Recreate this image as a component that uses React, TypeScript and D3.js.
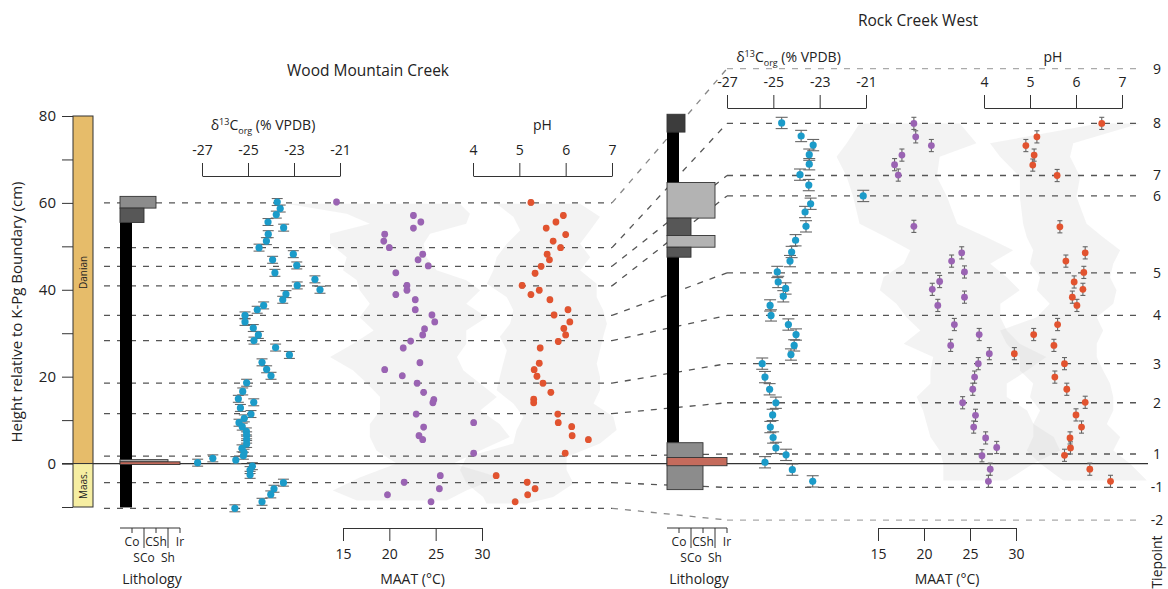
import React, { useEffect, useRef } from 'react';
import * as d3 from 'd3';

const W = 1168;
const H = 589;
const FONT = '"Open Sans", sans-serif';

// tiepoints, cm above the K-Pg boundary in each section
const tiepointLabels = ['9', '8', '7', '6', '5', '4', '3', '2', '1', '-1', '-2'];
const wmcTiepoints = [60.0, 49.7, 45.4, 40.9, 34.1, 28.3, 18.5, 11.5, 1.7, -4.4, -10.3];
const rcwTiepoints = [90.9, 78.3, 66.3, 61.6, 43.9, 34.1, 23.0, 14.0, 2.2, -5.5, -13.0];

const lithoTicks = ['Co', 'SCo', 'CSh', 'Sh', 'Ir'];
// lithology layers: [top, bottom, lithology index]
const wmcLitho: [number, number, number][] = [
  [55.5, -10.1, 1],
  [61.5, 58.8, 3],
  [58.8, 55.5, 2],
  [0.9, 0.35, 4],
  [0.4, -0.2, 5],
];
const rcwLitho: [number, number, number][] = [
  [76.3, 4.8, 1],
  [80.4, 76.3, 1.5],
  [64.7, 56.5, 4],
  [56.5, 52.5, 2],
  [52.5, 49.8, 4],
  [49.8, 47.5, 2],
  [4.8, -6.0, 3],
  [1.4, -0.5, 5],
];

// Wood Mountain Creek: [height cm, value]
const wmcD13C: [number, number][] = [
  [60.2, -23.73], [58.7, -23.6], [57.3, -23.77], [55.6, -24.13], [54.3, -23.45], [52.8, -24.12],
  [51.2, -24.2], [49.7, -24.52], [48.2, -23.03], [46.9, -23.93], [45.6, -22.88], [43.9, -23.83],
  [42.4, -22.09], [41.0, -22.86], [40.0, -21.87], [39.0, -23.35], [37.7, -23.49], [36.4, -24.32],
  [35.4, -24.6], [34.1, -25.13], [32.6, -25.13], [31.2, -24.77], [29.6, -24.55], [28.3, -24.74],
  [26.7, -23.8], [25.0, -23.2], [23.3, -24.39], [21.7, -24.19], [20.2, -24.0], [18.6, -25.06],
  [16.6, -25.23], [14.9, -25.42], [14.1, -24.75], [12.8, -25.33], [11.4, -24.87], [10.4, -25.16],
  [9.4, -25.39], [8.5, -25.25], [7.4, -25.07], [6.5, -25.06], [5.5, -25.06], [4.5, -25.06],
  [3.5, -25.26], [2.5, -25.17], [1.8, -25.2], [0.8, -25.53], [1.2, -26.53], [0.2, -27.19],
  [-0.6, -24.81], [-1.5, -24.91], [-2.6, -24.91], [-4.4, -23.46], [-5.8, -23.87], [-7.1, -24.01],
  [-8.8, -24.39], [-10.3, -25.57],
];
const wmcMaat: [number, number][] = [
  [60.2, 14.3], [57.1, 22.6], [55.6, 23.4], [54.2, 22.6], [52.8, 19.5], [51.2, 19.4], [49.7, 20.0],
  [48.2, 23.6], [46.9, 23.1], [45.5, 24.2], [43.9, 20.7], [41.0, 21.9], [39.9, 21.9], [38.9, 20.7],
  [37.7, 22.8], [35.4, 22.8], [34.2, 24.6], [32.6, 24.9], [31.0, 23.8], [29.6, 23.6], [28.2, 22.3],
  [26.6, 21.5], [23.2, 23.3], [21.6, 19.5], [20.2, 21.4], [18.5, 23.0], [16.4, 23.7], [14.7, 24.8],
  [14.0, 24.7], [11.4, 22.9], [9.4, 29.1], [8.4, 23.7], [6.4, 23.2], [5.5, 23.6], [2.4, 29.1],
  [-2.8, 25.5], [-4.3, 21.6], [-5.8, 25.4], [-7.2, 19.8], [-8.8, 24.5],
];
const wmcPh: [number, number][] = [
  [60.1, 5.25], [57.1, 5.95], [55.6, 5.79], [54.2, 5.58], [52.7, 6.0], [51.2, 5.73], [49.7, 5.89],
  [48.2, 5.6], [46.9, 5.65], [45.4, 5.47], [43.8, 5.34], [41.0, 5.06], [39.9, 5.43], [38.9, 5.25],
  [37.7, 5.66], [35.4, 6.05], [34.2, 5.75], [32.6, 6.09], [31.1, 5.96], [29.6, 6.0], [28.1, 5.84],
  [26.6, 5.45], [23.1, 5.43], [21.6, 5.32], [20.1, 5.38], [18.5, 5.51], [16.4, 5.68], [14.8, 5.31],
  [14.0, 5.31], [11.4, 5.83], [9.4, 5.84], [8.5, 6.13], [6.4, 6.14], [5.5, 6.49], [2.4, 5.99],
  [-2.8, 4.5], [-4.3, 5.17], [-5.8, 5.34], [-7.2, 5.18], [-8.8, 4.91],
];
// uncertainty envelopes: [height, low, high]
const wmcMaatBand: [number, number, number][] = [
  [59.8, 8.9, 27.6], [57.5, 15.4, 28.7], [55.2, 17.9, 28.3], [52.9, 13.6, 24.4], [50.6, 13.6, 23.7],
  [47.5, 15.4, 24.0], [44.5, 15.0, 25.1], [42.2, 16.5, 28.3], [39.9, 16.8, 29.8], [36.8, 17.9, 28.3],
  [33.7, 16.8, 30.5], [30.6, 18.3, 28.3], [27.6, 16.1, 28.3], [24.5, 13.6, 27.3], [21.4, 16.1, 28.0],
  [18.4, 17.6, 29.8], [15.3, 19.0, 31.6], [12.2, 19.0, 29.8], [9.1, 17.9, 31.9], [6.1, 17.9, 33.0],
  [3.0, 18.6, 29.8], [0, 20.8, 26.9], [-3.2, 16.8, 31.9], [-6.2, 13.9, 28.3], [-8.5, 16.5, 26.2],
];
const wmcPhBand: [number, number, number][] = [
  [59.8, 4.51, 6.31], [56.8, 4.87, 6.74], [53.7, 5.02, 6.53], [50.6, 4.73, 6.31], [47.5, 4.51, 6.53],
  [44.5, 4.44, 6.31], [41.4, 4.3, 6.67], [38.3, 4.73, 6.67], [35.3, 4.87, 6.81], [32.2, 4.8, 6.89],
  [29.2, 4.58, 6.81], [26.1, 4.73, 6.74], [23.0, 4.65, 6.67], [20.0, 4.58, 6.74], [16.9, 4.51, 6.74],
  [13.8, 4.87, 6.6], [10.8, 5.09, 7.03], [7.7, 4.94, 7.1], [4.6, 4.87, 6.74], [1.5, 3.86, 6.02],
  [-1.5, 3.72, 6.02], [-4.6, 3.86, 6.17], [-7.7, 4.22, 5.73], [-9.2, 4.29, 5.16],
];

// Rock Creek West
const rcwD13C: [number, number][] = [
  [78.4, -24.64], [75.4, -23.8], [73.3, -23.28], [71.1, -23.45], [68.9, -23.45], [66.5, -23.85],
  [64.1, -23.47], [61.6, -21.12], [59.8, -23.39], [57.9, -23.63], [54.6, -23.59], [51.4, -24.04],
  [48.7, -24.21], [46.6, -24.28], [44.1, -24.83], [41.8, -24.79], [40.3, -24.47], [38.5, -24.57],
  [36.4, -25.14], [34.1, -25.1], [32.0, -24.35], [29.7, -24.02], [27.2, -24.1], [25.1, -24.24],
  [23.0, -25.48], [19.9, -25.36], [17.1, -25.16], [14.0, -24.89], [11.2, -25.03], [8.4, -25.13],
  [6.0, -25.01], [3.6, -24.89], [2.0, -24.45], [0.3, -25.36], [-1.4, -24.18], [-4.1, -23.3],
];
const rcwMaat: [number, number][] = [
  [78.3, 18.9], [75.2, 19.1], [73.2, 20.8], [71.0, 17.6], [68.8, 16.8], [66.4, 17.2], [54.6, 18.9],
  [48.5, 24.1], [46.6, 23.0], [44.1, 24.4], [41.9, 21.7], [40.1, 20.9], [38.3, 24.4], [36.4, 21.5],
  [32.0, 23.3], [29.7, 26.0], [27.2, 22.9], [25.3, 27.1], [23.0, 25.9], [19.9, 25.5], [17.1, 25.3],
  [14.0, 24.2], [11.1, 25.6], [8.4, 25.4], [5.9, 26.7], [3.7, 27.9], [1.8, 26.3], [-1.3, 27.2],
  [-4.1, 27.0],
];
const rcwPh: [number, number][] = [
  [78.3, 6.56], [75.2, 5.15], [73.2, 4.91], [71.0, 5.09], [68.7, 5.06], [66.3, 5.59], [54.5, 5.65],
  [48.5, 6.2], [46.6, 5.78], [44.0, 6.17], [41.8, 5.96], [40.1, 6.15], [38.3, 5.92], [36.4, 6.02],
  [32.0, 5.6], [29.7, 5.08], [27.2, 5.52], [25.3, 4.66], [23.0, 5.75], [19.9, 5.54], [17.1, 5.8],
  [14.1, 6.2], [11.2, 6.0], [8.4, 6.12], [5.9, 5.87], [3.6, 5.88], [1.9, 5.75], [-1.3, 6.3],
  [-4.1, 6.75],
];
const rcwMaatBand: [number, number, number][] = [
  [78.3, 13.0, 23.9], [73.7, 11.6, 25.7], [70.6, 10.5, 21.7], [66.0, 11.6, 21.4], [61.4, 12.3, 22.5],
  [55.2, 13.0, 23.6], [52.1, 15.9, 26.8], [49.1, 18.5, 29.7], [46.0, 17.8, 27.2], [42.9, 15.6, 29.0],
  [39.9, 15.2, 30.4], [36.8, 17.0, 28.3], [33.7, 18.1, 28.3], [30.6, 19.6, 29.0], [27.6, 17.8, 30.4],
  [24.5, 21.0, 33.3], [21.4, 20.7, 31.2], [18.4, 20.7, 29.0], [15.3, 19.2, 29.0], [12.2, 19.9, 31.2],
  [9.1, 20.3, 31.9], [6.1, 20.7, 34.1], [3.0, 21.7, 34.8], [0, 22.1, 31.9], [-3.9, 22.1, 29.0],
];
const rcwPhBand: [number, number, number][] = [
  [78.3, 6.5, 7.39], [73.7, 4.13, 5.94], [70.6, 4.35, 5.87], [66.0, 4.78, 6.09], [61.4, 4.78, 6.01],
  [55.2, 4.85, 6.23], [52.1, 4.93, 6.59], [49.1, 5.07, 6.96], [46.0, 5.0, 6.81], [42.9, 5.22, 6.74],
  [39.9, 5.15, 6.88], [36.8, 5.43, 6.81], [33.7, 5.15, 6.45], [30.6, 4.35, 6.59], [27.6, 4.49, 6.45],
  [24.5, 4.78, 6.45], [21.4, 4.78, 6.59], [18.4, 5.07, 6.74], [15.3, 5.0, 6.81], [12.2, 5.22, 6.81],
  [9.1, 5.07, 6.67], [6.1, 5.07, 6.96], [3.0, 4.93, 6.81], [0, 5.22, 7.17], [-3.9, 5.72, 7.54],
];

const yTicks = [-10, 0, 10, 20, 30, 40, 50, 60, 70, 80];
const d13Ticks = [-27, -25, -23, -21];
const phTicks = [4, 5, 6, 7];
const maatTicks = [15, 20, 25, 30];

const BLUE = '#1b9bc9';
const PURPLE = '#9a63b3';
const RED = '#e2532f';
const lithoColor = (v: number) =>
  ({ 1: '#000000', 1.5: '#3c3c3c', 2: '#575757', 3: '#8c8c8c', 4: '#b3b3b3', 5: '#c56b5c' } as any)[v];

export default function App() {
  const ref = useRef<SVGSVGElement>(null);

  useEffect(() => {
    const svg = d3.select(ref.current);
    svg.selectAll('*').remove();
    svg.attr('font-family', FONT);

    const y = d3.scaleLinear().domain([-10, 80]).range([507, 116]);

    const panels = [
      {
        title: 'Wood Mountain Creek', titleX: 368, titleY: 76,
        d13c: wmcD13C, maat: wmcMaat, ph: wmcPh, maatBand: wmcMaatBand, phBand: wmcPhBand, litho: wmcLitho,
        dx: d3.scaleLinear().domain([-27, -21]).range([202, 340]),
        px: d3.scaleLinear().domain([4, 7]).range([473, 612]),
        mx: d3.scaleLinear().domain([15, 30]).range([343, 482]),
        lx: d3.scaleLinear().domain([0, 5]).range([120, 180]),
        topY: 176, dErr: 0.8, dCap: 5.5, sErr: 0.6, sCap: 1.5,
      },
      {
        title: 'Rock Creek West', titleX: 918, titleY: 26,
        d13c: rcwD13C, maat: rcwMaat, ph: rcwPh, maatBand: rcwMaatBand, phBand: rcwPhBand, litho: rcwLitho,
        dx: d3.scaleLinear().domain([-27, -21]).range([727, 866]),
        px: d3.scaleLinear().domain([4, 7]).range([984, 1122]),
        mx: d3.scaleLinear().domain([15, 30]).range([878, 1016]),
        lx: d3.scaleLinear().domain([0, 5]).range([667, 727]),
        topY: 108, dErr: 1.3, dCap: 6, sErr: 1.4, sCap: 2.5,
      },
    ];

    // Envelopes
    panels.forEach((p) => {
      const band = (xs: d3.ScaleLinear<number, number>) =>
        d3.area<[number, number, number]>()
          .y((d) => y(d[0]))
          .x0((d) => xs(d[1]))
          .x1((d) => xs(d[2]));
      svg.append('path').datum(p.maatBand).attr('d', band(p.mx))
        .attr('fill', '#d6d6d6').attr('opacity', 0.3);
      svg.append('path').datum(p.phBand).attr('d', band(p.px))
        .attr('fill', '#d6d6d6').attr('opacity', 0.3);
    });

    // Tiepoint lines and connectors
    const dash = svg.append('g').attr('stroke-dasharray', '6,7').attr('stroke-width', 1.3).attr('fill', 'none');
    tiepointLabels.forEach((lab, i) => {
      const faint = i === 0 || i === tiepointLabels.length - 1;
      dash.append('line')
        .attr('x1', 104).attr('x2', 612)
        .attr('y1', y(wmcTiepoints[i])).attr('y2', y(wmcTiepoints[i]))
        .attr('stroke', '#555');
      dash.append('line')
        .attr('x1', 612).attr('x2', 727)
        .attr('y1', y(wmcTiepoints[i])).attr('y2', y(rcwTiepoints[i]))
        .attr('stroke', faint ? '#888' : '#555');
      dash.append('line')
        .attr('x1', 727).attr('x2', 1143)
        .attr('y1', y(rcwTiepoints[i])).attr('y2', y(rcwTiepoints[i]))
        .attr('stroke', faint ? '#aaa' : '#555');
      svg.append('text')
        .attr('x', 1157).attr('y', y(rcwTiepoints[i])).attr('dy', '0.35em')
        .attr('text-anchor', 'middle').attr('font-size', 14).attr('fill', '#222')
        .text(lab);
    });

    // K-Pg boundary
    svg.append('line').attr('x1', 62).attr('x2', 1148).attr('y1', y(0)).attr('y2', y(0))
      .attr('stroke', '#333').attr('stroke-width', 1.2);

    // Lithology columns and axes
    panels.forEach((p) => {
      const g = svg.append('g');
      g.selectAll('rect').data(p.litho).join('rect')
        .attr('x', p.lx(0))
        .attr('y', (d) => y(d[0]))
        .attr('width', (d) => p.lx(d[2]) - p.lx(0))
        .attr('height', (d) => y(d[1]) - y(d[0]))
        .attr('fill', (d) => lithoColor(d[2]))
        .attr('stroke', (d) => (d[2] === 1 ? 'none' : '#333'))
        .attr('stroke-width', 0.9);

      const ax = svg.append('g').attr('stroke', '#333').attr('stroke-width', 1);
      ax.append('line').attr('x1', p.lx(0)).attr('x2', p.lx(5)).attr('y1', 528).attr('y2', 528);
      lithoTicks.forEach((t, i) => {
        const x = p.lx(i + 1);
        const long = i % 2 === 1;
        ax.append('line').attr('x1', x).attr('x2', x).attr('y1', 528).attr('y2', long ? 548 : 533);
        svg.append('text').attr('x', x).attr('y', long ? 562 : 546)
          .attr('text-anchor', 'middle').attr('font-size', 12).attr('fill', '#222').text(t);
      });
      svg.append('text').attr('x', (p.lx(0) + p.lx(5)) / 2 + 2).attr('y', 584)
        .attr('text-anchor', 'middle').attr('font-size', 14).attr('fill', '#222').text('Lithology');
    });

    // Age column + height axis
    const age = svg.append('g');
    age.append('rect').attr('x', 73).attr('width', 20).attr('y', y(80)).attr('height', y(0) - y(80))
      .attr('fill', '#e6bc6a').attr('stroke', '#333');
    age.append('rect').attr('x', 73).attr('width', 20).attr('y', y(0)).attr('height', y(-10) - y(0))
      .attr('fill', '#f6eea2').attr('stroke', '#333');
    age.append('text').attr('transform', `translate(87,${y(44)}) rotate(-90)`)
      .attr('text-anchor', 'middle').attr('font-size', 10).attr('fill', '#222').text('Danian');
    age.append('text').attr('transform', `translate(87,${y(-5)}) rotate(-90)`)
      .attr('text-anchor', 'middle').attr('font-size', 10).attr('fill', '#222').text('Maas.');

    const yAxis = svg.append('g').attr('transform', 'translate(73,0)')
      .call(d3.axisLeft(y).tickValues(yTicks).tickSize(11).tickPadding(6)
        .tickFormat((d) => ((d as number) % 20 === 0 ? String(d) : '')));
    yAxis.select('.domain').remove();
    yAxis.selectAll('line').attr('stroke', '#333');
    yAxis.selectAll('text').attr('font-size', 15).attr('font-family', FONT).attr('fill', '#222');
    svg.append('text').attr('transform', `translate(22,${312}) rotate(-90)`)
      .attr('text-anchor', 'middle').attr('font-size', 15).attr('fill', '#222')
      .text('Height relative to K-Pg Boundary (cm)');

    // Data points
    panels.forEach((p) => {
      const series = [
        { data: p.d13c, xs: p.dx, color: BLUE, err: p.dErr, cap: p.dCap, r: 3.6 },
        { data: p.maat, xs: p.mx, color: PURPLE, err: p.sErr, cap: p.sCap, r: 3.4 },
        { data: p.ph, xs: p.px, color: RED, err: p.sErr, cap: p.sCap, r: 3.4 },
      ];
      series.forEach((s) => {
        const g = svg.append('g');
        const eb = g.append('g').attr('stroke', '#666').attr('stroke-width', 1.1);
        s.data.forEach((d) => {
          const cx = s.xs(d[1]);
          const y1 = y(d[0] + s.err);
          const y2 = y(d[0] - s.err);
          eb.append('line').attr('x1', cx).attr('x2', cx).attr('y1', y1).attr('y2', y2);
          eb.append('line').attr('x1', cx - s.cap).attr('x2', cx + s.cap).attr('y1', y1).attr('y2', y1);
          eb.append('line').attr('x1', cx - s.cap).attr('x2', cx + s.cap).attr('y1', y2).attr('y2', y2);
        });
        g.selectAll('circle').data(s.data).join('circle')
          .attr('cx', (d) => s.xs(d[1]))
          .attr('cy', (d) => y(d[0]))
          .attr('r', s.r)
          .attr('fill', s.color);
      });
    });

    // Scale axes and titles
    panels.forEach((p) => {
      const style = (g: any) => {
        g.select('.domain').attr('stroke', '#333');
        g.selectAll('line').attr('stroke', '#333');
        g.selectAll('text').attr('font-size', 14).attr('font-family', FONT).attr('fill', '#222');
      };
      svg.append('g').attr('transform', `translate(0,${p.topY})`)
        .call(d3.axisTop(p.dx).tickValues(d13Ticks).tickSize(13).tickSizeOuter(0).tickPadding(8).tickFormat((d) => String(d)))
        .call(style);
      svg.append('g').attr('transform', `translate(0,${p.topY})`)
        .call(d3.axisTop(p.px).tickValues(phTicks).tickSize(13).tickSizeOuter(0).tickPadding(8).tickFormat((d) => String(d)))
        .call(style);
      svg.append('g').attr('transform', 'translate(0,528)')
        .call(d3.axisBottom(p.mx).tickValues(maatTicks).tickSize(13).tickSizeOuter(0).tickPadding(8).tickFormat((d) => String(d)))
        .call(style);

      const t = svg.append('text')
        .attr('x', (p.dx(-27) + p.dx(-21)) / 2 - 8).attr('y', p.topY - 46)
        .attr('text-anchor', 'middle').attr('font-size', 14).attr('fill', '#222');
      t.append('tspan').text('δ');
      t.append('tspan').attr('font-size', 9).attr('dy', -5).text('13');
      t.append('tspan').attr('dy', 5).text('C');
      t.append('tspan').attr('font-size', 9).attr('dy', 4).text('org');
      t.append('tspan').attr('dy', -4).text(' (% VPDB)');

      svg.append('text').attr('x', (p.px(4) + p.px(7)) / 2).attr('y', p.topY - 46)
        .attr('text-anchor', 'middle').attr('font-size', 14).attr('fill', '#222').text('pH');
      svg.append('text').attr('x', (p.mx(15) + p.mx(30)) / 2).attr('y', 584)
        .attr('text-anchor', 'middle').attr('font-size', 14).attr('fill', '#222').text('MAAT (°C)');
      svg.append('text').attr('x', p.titleX).attr('y', p.titleY)
        .attr('text-anchor', 'middle').attr('font-size', 15.5).attr('fill', '#222').text(p.title);
    });

    svg.append('text').attr('transform', 'translate(1162,562) rotate(-90)')
      .attr('text-anchor', 'middle').attr('font-size', 14).attr('fill', '#222').text('Tiepoint');
  }, []);

  return (
    <svg
      ref={ref}
      width={W}
      height={H}
      style={{ position: 'absolute', left: 0, top: 0, background: '#fff' }}
    />
  );
}
